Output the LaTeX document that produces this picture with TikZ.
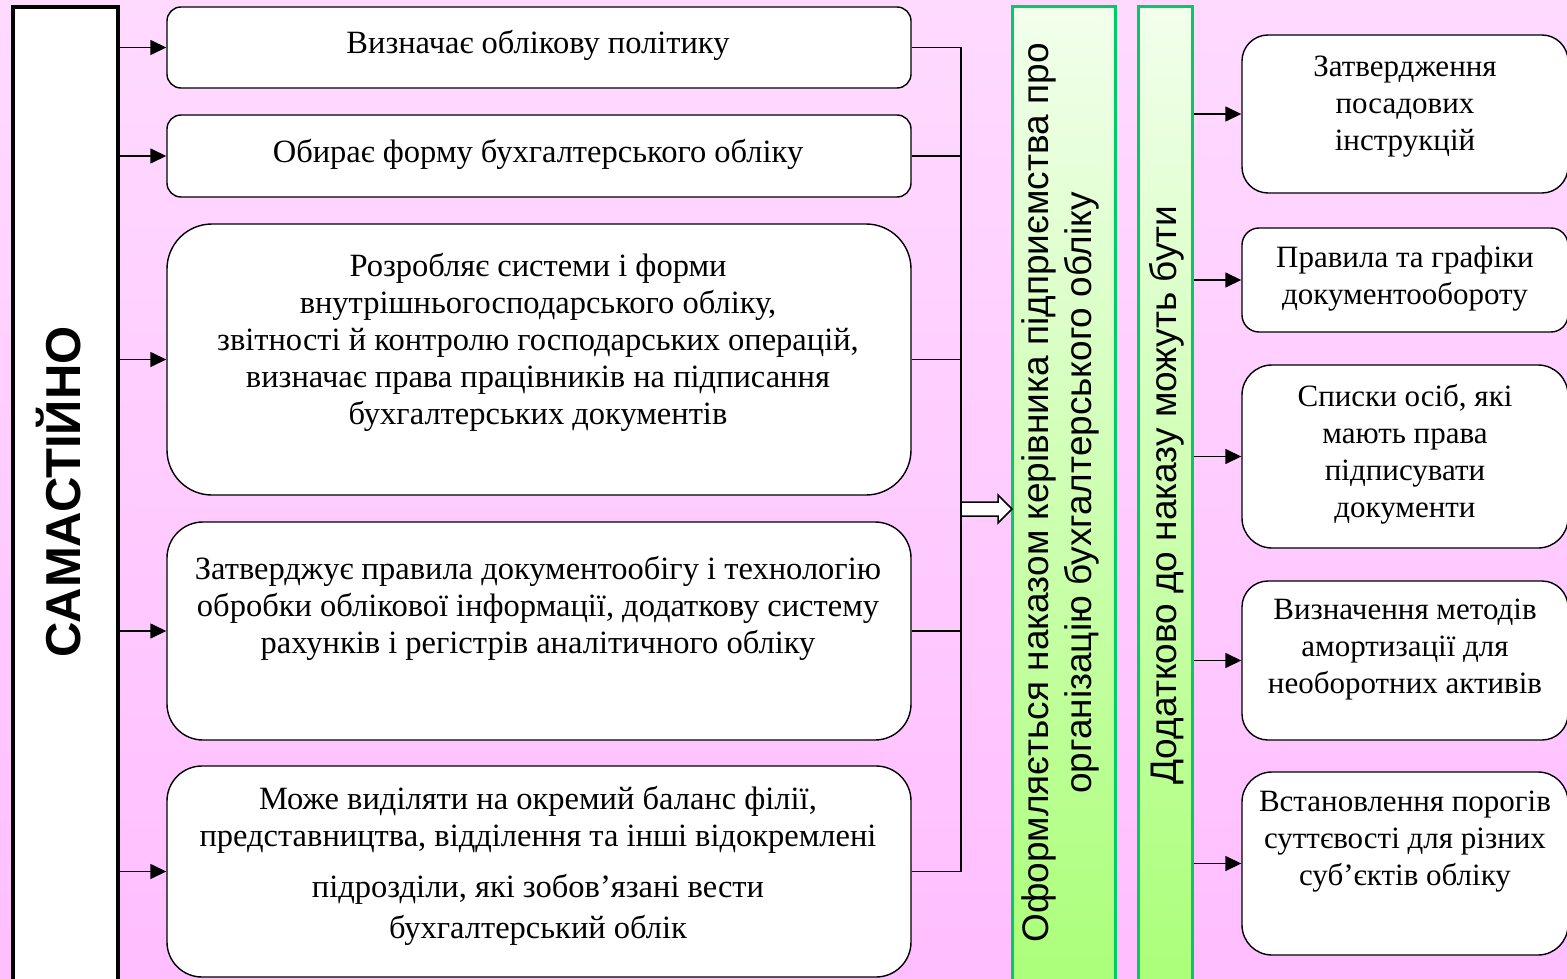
\documentclass[tikz,border=0pt]{standalone}
\usepackage{fontspec}
\setmainfont{Liberation Serif}
\setsansfont{Liberation Sans}
\usetikzlibrary{arrows.meta}
\definecolor{bgtop}{RGB}{255,218,255}
\definecolor{bgbot}{RGB}{255,190,255}
\definecolor{gtop}{RGB}{242,255,236}
\definecolor{gbot}{RGB}{170,255,120}
\definecolor{gline}{RGB}{0,204,102}
\begin{document}
\begin{tikzpicture}[x=1pt,y=-1pt,
 box/.style={draw=black, line width=1.4pt, fill=white, rounded corners=#1, inner sep=0pt},
 lbox/.style={box=#1, minimum width=744pt},
 rbox/.style={box=#1, minimum width=326pt},
 txt/.style={font=\fontsize{31}{37}\selectfont, align=center, inner sep=0pt},
 ltxt/.style={font=\fontsize{32.5}{37}\selectfont, align=center, inner sep=0pt},
 gbar/.style={draw=gline, line width=3pt, top color=gtop, bottom color=gbot, inner sep=0pt, minimum height=985pt},
 conn/.style={line width=1.5pt},
 arr/.style={conn, -{Triangle[length=16pt,width=15pt]}},
 vtxt/.style={font=\sffamily\fontsize{37}{43}\selectfont, rotate=90, align=center, inner sep=0pt},
]
\useasboundingbox (0,0) rectangle (1567,979);
\clip (0,0) rectangle (1567,979);
\shade[top color=bgtop, bottom color=bgbot] (0,0) rectangle (1567,979);

% left vertical block
\node[draw, line width=3.5pt, fill=white, minimum width=105pt, minimum height=1000pt, inner sep=0pt] (L) at (65.5,507) {};
\node[font=\sffamily\bfseries\fontsize{49}{49}\selectfont, rotate=90, anchor=base, inner sep=0pt] (Lt) at (80,492) {САМАСТІЙНО};

% left boxes
\node[lbox=14pt, minimum height=81pt] (b1) at (539,47.5) {};
\node[lbox=14pt, minimum height=82pt] (b2) at (539,156) {};
\node[lbox=45pt, minimum height=271pt] (b3) at (539,359.5) {};
\node[lbox=36pt, minimum height=218pt] (b4) at (539,631) {};
\node[lbox=35pt, minimum height=211pt] (b5) at (539,871.5) {};

\node[ltxt] (t1) at (538,45) {Визначає облікову політику};
\node[ltxt] (t2) at (538,154) {Обирає форму бухгалтерського обліку};
\node[ltxt] (t3) at (538,342) {Розробляє системи і форми\\внутрішньогосподарського обліку,\\звітності й контролю господарських операцій,\\визначає права працівників на підписання\\бухгалтерських документів};
\node[ltxt] (t4) at (538,608) {Затверджує правила документообігу і технологію\\обробки облікової інформації, додаткову систему\\рахунків і регістрів аналітичного обліку};
\node[ltxt] (t5) at (538,866) {Може виділяти на окремий баланс філії,\\представництва, відділення та інші відокремлені\\[14pt]підрозділи, які зобов’язані вести\\[4pt]бухгалтерський облік};

% green bars
\node[gbar, minimum width=103pt] (g1) at (1063.5,499.5) {};
\node[gbar, minimum width=54pt] (g2) at (1165,499.5) {};
\node[vtxt] (g1t) at (1060,493) {Оформляється наказом керівника підприємства про\\організацію бухгалтерського обліку};
\node[vtxt, anchor=base] (g2t) at (1176,495) {Додатково до наказу можуть бути};

% right boxes
\node[rbox=26pt, minimum height=158pt] (r1) at (1405,114) {};
\node[rbox=17pt, minimum height=104pt] (r2) at (1405,280) {};
\node[rbox=30pt, minimum height=183pt] (r3) at (1405,456.5) {};
\node[rbox=26pt, minimum height=159pt] (r4) at (1405,660.5) {};
\node[rbox=30pt, minimum height=183pt] (r5) at (1405,863.5) {};

\node[txt] (s1) at (1405,106.5) {Затвердження\\посадових\\інструкцій};
\node[txt] (s2) at (1405,279) {Правила та графіки\\документообороту};
\node[txt] (s3) at (1405,454.5) {Списки осіб, які\\мають права\\підписувати\\документи};
\node[txt] (s4) at (1405,649.5) {Визначення методів\\амортизації для\\необоротних активів};
\node[txt] (s5) at (1405,841.5) {Встановлення порогів\\суттєвості для різних\\суб’єктів обліку};

% connectors
\coordinate (J) at (961,509);
\foreach \b in {b1,b2,b3,b4,b5} {
  \draw[arr] (L.east |- \b.west) -- (\b.west);
  \draw[conn] (\b.east) -- (\b.east -| J);
}
\draw[conn] (b1.east -| J) -- (b5.east -| J);
\draw[conn, fill=white, shift={(J)}] (0,-7) -- (37,-7) -- (37,-14) -- (51,0) -- (37,14) -- (37,7) -- (0,7) -- cycle;
\foreach \r in {r1,r2,r3,r4,r5} {
  \draw[arr] (g2.east |- \r.west) -- (\r.west);
}
\end{tikzpicture}
\end{document}
